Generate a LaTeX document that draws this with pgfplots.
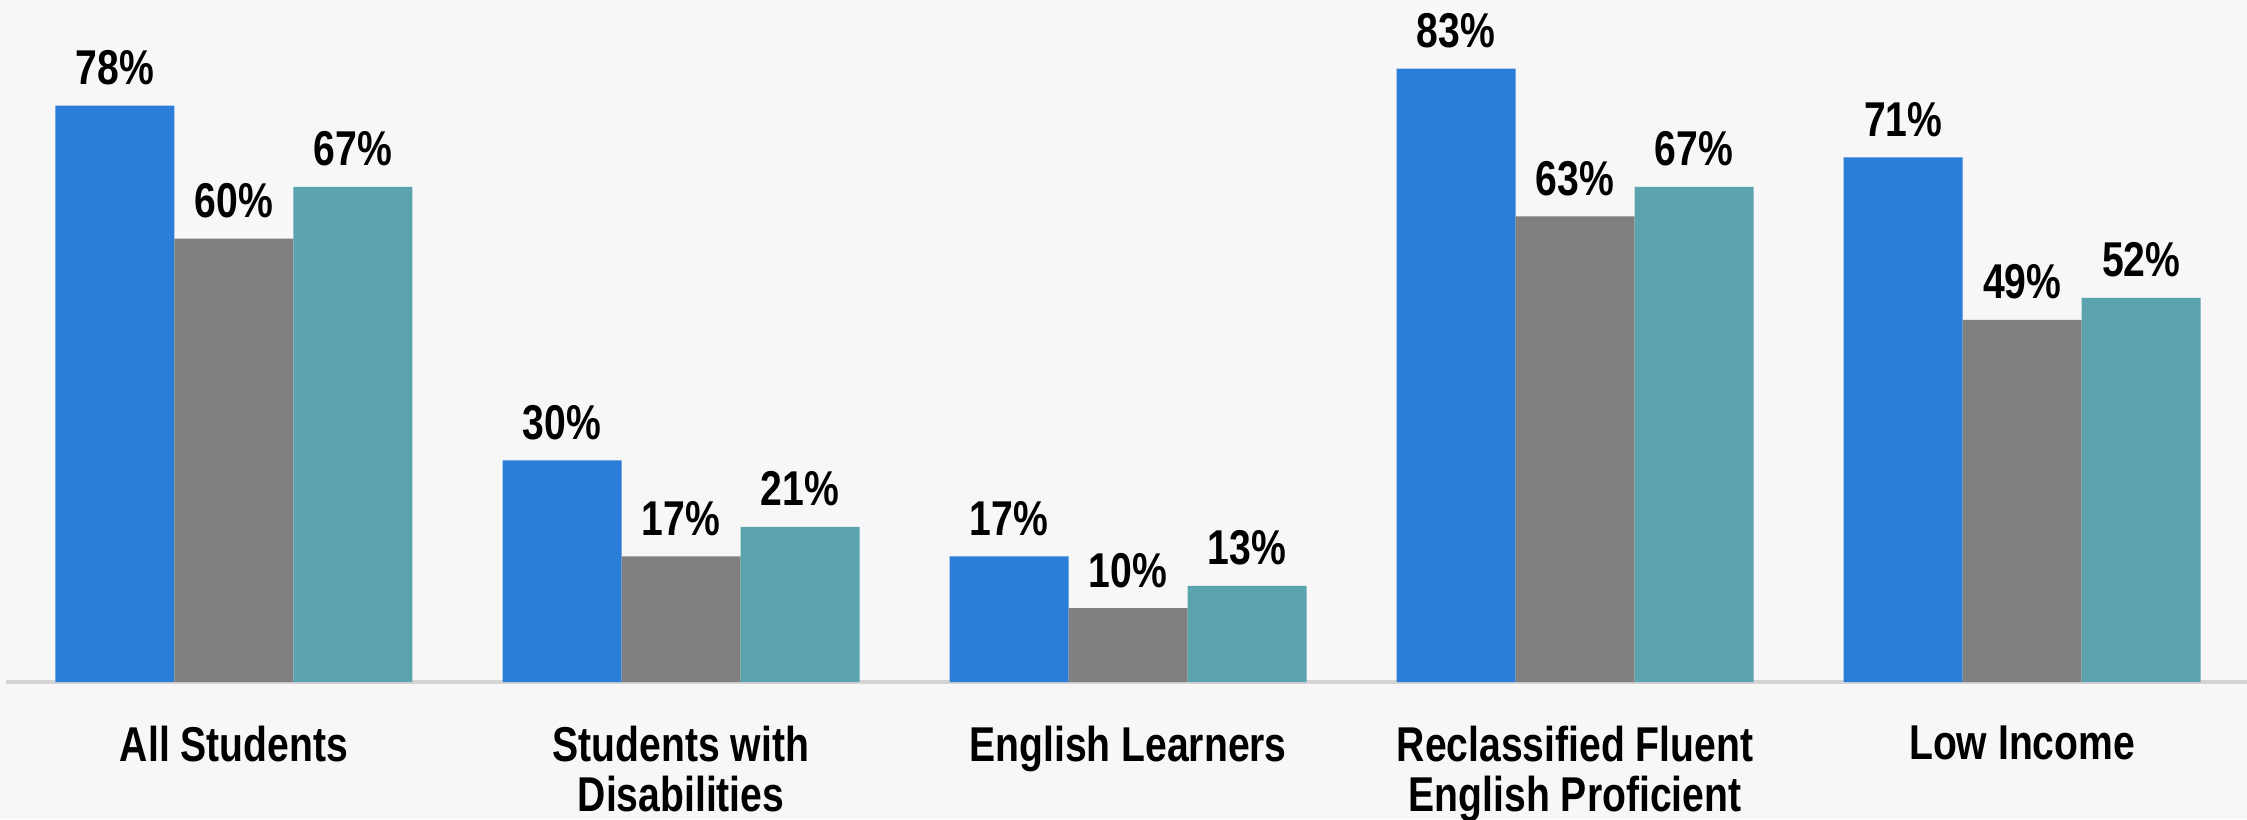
\documentclass[border=0pt]{standalone}
\usepackage{pgfplots}
\pgfplotsset{compat=1.18}
\usepackage{fontspec}
\setmainfont{Liberation Sans}[FakeStretch=0.8]
\definecolor{bg}{HTML}{F7F7F7}
\definecolor{cblue}{HTML}{2B7ED8}
\definecolor{cgray}{HTML}{808080}
\definecolor{cteal}{HTML}{5BA3AF}
\definecolor{axline}{HTML}{D4D4D4}
\begin{document}
\begin{tikzpicture}
\fill[bg, use as bounding box] (-2.16pt,-49.32pt) rectangle (806.76pt,245.52pt);
\begin{axis}[
  at={(0pt,0pt)}, anchor=south west,
  width=806.76pt, height=245.52pt, scale only axis,
  xmin=-0.51, xmax=4.503, ymin=0, ymax=92.3,
  hide y axis,
  axis x line*=bottom,
  x axis line style={axline, line width=1.2pt, -},
  xtick={0,1,2,3,4},
  xticklabels={{All Students},{Students with\\Disabilities},{English Learners},{Reclassified Fluent\\English Proficient},{Low Income}},
  major tick length=0pt,
  xticklabel style={font=\bfseries\fontsize{17.6}{18}\selectfont, align=center, anchor=north, inner sep=0pt, yshift=-15.5pt},
  ybar, bar width=42.84pt,
  nodes near coords={\pgfmathprintnumber[assume math mode=true]{\pgfplotspointmeta}\%},
  nodes near coords style={font=\bfseries\fontsize{17.6}{18}\selectfont, anchor=base, inner sep=0pt, yshift=7.6pt, text=black},
  clip=false,
]
\addplot[fill=cblue, draw=none, bar shift=-42.84pt] coordinates {(0,78) (1,30) (2,17) (3,83) (4,71)};
\addplot[fill=cgray, draw=none, bar shift=0pt] coordinates {(0,60) (1,17) (2,10) (3,63) (4,49)};
\addplot[fill=cteal, draw=none, bar shift=42.84pt] coordinates {(0,67) (1,21) (2,13) (3,67) (4,52)};
\end{axis}
\end{tikzpicture}
\end{document}
